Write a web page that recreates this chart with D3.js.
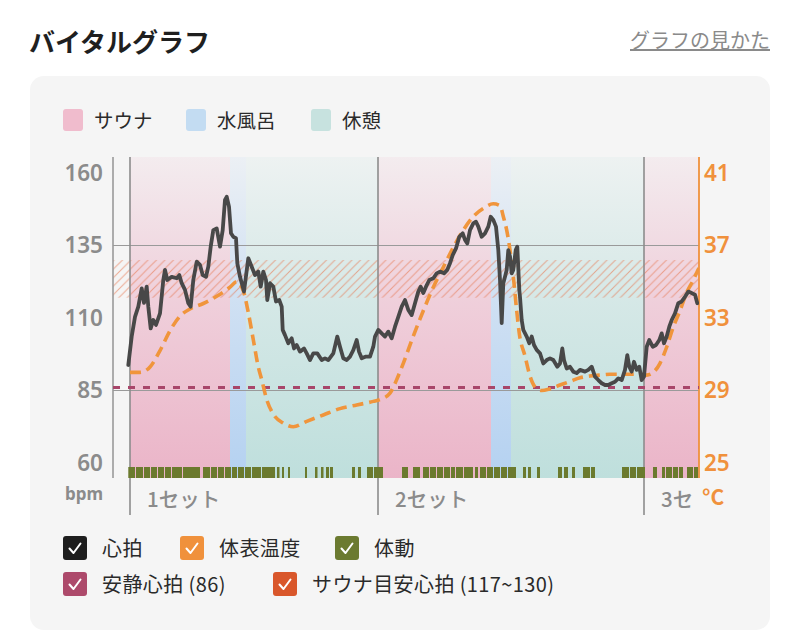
<!DOCTYPE html>
<html><head><meta charset="utf-8">
<script src="https://cdn.jsdelivr.net/npm/d3@7"></script>
<style>
html,body{margin:0;padding:0;background:#fff;}
svg{display:block;font-family:"Noto Sans CJK JP","Noto Sans",sans-serif;}
</style></head>
<body><svg id="c" width="800" height="644"></svg>
<script>
// ---------- data ----------
const hrTicks = [60, 85, 110, 135, 160];
const tempTicks = [25, 29, 33, 37, 41];
const gridBpm = [85, 135];
const restingHR = 86;
const saunaTarget = [117, 130];
const setLabels = ["1セット", "2セット", "3セット"];
const setStarts = [0, 24.8, 51.4];           // minutes
const phases = [                              // [type, start, end] minutes
  ["sauna", 0, 10.0], ["water", 10.0, 11.6], ["rest", 11.6, 24.8],
  ["sauna", 24.8, 36.1], ["water", 36.1, 38.1], ["rest", 38.1, 51.4],
  ["sauna", 51.4, 56.9]
];
const heartRate = [
  [-0.17,93.8],[0.17,103.6],[0.5,110.4],[0.83,113.9],[1.17,120.2],[1.4,115.2],[1.67,120.8],[1.83,113.9],
  [2.07,106.4],[2.33,109.3],[2.6,107.6],[3.0,111.6],[3.33,123.1],[3.5,126.6],[3.73,123.1],[4.17,124.2],
  [4.67,123.7],[4.93,124.8],[5.17,122],[5.5,119.7],[5.83,115.1],[6.07,113.9],[6.33,123.1],[6.67,129.4],
  [7.0,128.3],[7.27,124.8],[7.6,124.2],[7.83,127.7],[8.07,134.6],[8.33,140.3],[8.67,140.9],[9.0,134.6],
  [9.27,140.3],[9.5,150.7],[9.67,151.8],[9.9,148.4],[10.1,139.2],[10.33,138],[10.6,137.5],[10.73,128.9],
  [11.0,124.2],[11.4,119.1],[11.83,130.6],[12.17,127.7],[12.5,124.8],[12.83,126],[13.07,120.8],[13.33,126],
  [13.6,123.1],[13.73,116.2],[14.0,122],[14.33,120.8],[14.6,115.7],[14.93,116.2],[15.17,113.9],[15.27,105.9],
  [15.5,104.1],[15.83,101.3],[16.17,103],[16.4,99.5],[16.67,100.7],[17.0,98.4],[17.4,99.5],[17.67,97.8],
  [18.0,95.5],[18.33,97.8],[18.73,97.8],[19.17,95.5],[19.5,96.1],[19.83,95.5],[20.33,97.8],[20.73,103.6],
  [21.0,100.1],[21.33,96.1],[21.67,95.5],[22.0,96.7],[22.33,98.9],[22.67,102.4],[22.9,98.4],[23.17,96.1],
  [23.6,96.7],[24.0,96.7],[24.33,100.1],[24.5,103.6],[24.83,105.9],[25.17,104.7],[25.5,103.6],[25.83,105.3],
  [26.17,103],[26.5,107],[26.83,110.4],[27.17,113.9],[27.5,116.2],[27.83,112.8],[28.17,111],[28.5,115.1],
  [28.83,119.1],[29.07,120.8],[29.33,118.6],[29.6,120.8],[29.93,123.1],[30.33,123.7],[30.67,125.4],[31.0,126],
  [31.4,125.4],[31.73,126.6],[32.0,128.9],[32.27,131.7],[32.6,134],[32.93,138],[33.27,139.2],[33.5,136.9],
  [33.73,135.7],[34.0,140.3],[34.33,142.6],[34.6,143.2],[34.83,141.5],[35.17,138],[35.5,139.2],[35.83,141.5],
  [36.07,144.9],[36.33,143.8],[36.6,141.5],[36.83,133.4],[37.0,123.1],[37.17,108.2],[37.33,122],[37.5,124.2],
  [37.67,126.6],[37.83,133.4],[38.0,131.2],[38.17,125.4],[38.33,126.6],[38.57,133.4],[38.73,134.6],[38.93,119.7],
  [39.0,117.3],[39.17,109.3],[39.33,105.9],[39.67,103.6],[39.93,101.3],[40.17,103.6],[40.4,100.7],[40.67,99],
  [41.0,97.8],[41.33,94.3],[41.67,95.5],[42.0,96.1],[42.33,95.5],[42.73,93.2],[43.0,94.3],[43.23,99.5],
  [43.4,95.5],[43.67,92.6],[44.0,93.2],[44.33,91.5],[44.67,91],[45.0,92.1],[45.5,91.5],[45.83,92.1],
  [46.17,93.2],[46.5,89.8],[46.83,88.6],[47.17,87.5],[47.5,86.9],[47.83,86.9],[48.17,87.5],[48.5,88],
  [48.83,89.2],[49.17,88.6],[49.5,92.1],[49.73,97.2],[49.93,93.2],[50.17,91.5],[50.4,94.9],[50.67,92.1],
  [50.93,93.2],[51.17,88.6],[51.4,89.8],[51.67,100.1],[51.93,102.4],[52.27,100.1],[52.6,100.7],[52.93,102.4],
  [53.17,104.7],[53.4,101.3],[53.67,103.6],[53.93,107],[54.17,109.3],[54.5,111.6],[54.83,115.1],[55.17,115.7],
  [55.5,117.3],[55.83,119.1],[56.17,118.6],[56.5,118],[56.73,115.1]
];
const bodyTemp = [
  [0,30.0],[1.0,30.0],[2.0,30.3],[3.0,31.2],[4.0,32.3],[5.0,33.1],[6.0,33.5],[7.33,33.8],[8.67,34.2],
  [10.0,34.7],[10.67,35.0],[11.33,34.5],[11.83,33.3],[12.33,31.8],[12.83,30.3],[13.17,29.6],[13.67,28.5],
  [14.33,27.7],[15.33,27.2],[16.33,27.0],[17.67,27.3],[19.33,27.65],[21.0,28.0],[22.67,28.2],[24.33,28.4],
  [25.0,28.5],[26.0,28.85],[26.67,29.6],[27.33,30.5],[28.33,32.0],[29.33,33.4],[30.33,34.7],[31.33,35.8],
  [32.33,36.9],[33.33,37.85],[34.33,38.6],[35.33,39.05],[36.33,39.3],[37.0,39.2],[37.33,38.6],[37.67,37.85],
  [38.0,36.75],[38.33,35.3],[38.67,33.4],[38.93,32.15],[39.5,30.9],[40.0,29.8],[40.5,29.2],[41.17,29.0],
  [42.0,29.1],[43.0,29.3],[44.0,29.5],[45.0,29.7],[46.0,29.8],[47.0,29.85],[48.0,29.9],[49.0,29.9],
  [50.0,29.9],[51.0,29.9],[51.67,29.85],[52.33,30.0],[53.0,30.5],[53.67,31.4],[54.33,32.5],[55.0,33.4],
  [55.67,34.4],[56.33,35.1],[56.67,35.5],[56.9,35.75]
];
const movement = [ // [start, end] minutes
  [-0.17,0.5],[0.6,1.3],[1.4,2.0],[2.1,2.7],[2.8,3.4],[3.5,4.1],[4.2,5.2],[5.3,7.0],
  [7.3,8.0],[8.1,8.7],[8.8,9.4],[9.5,10.1],[10.2,10.7],[10.8,11.4],[11.5,12.1],[12.2,13.1],[13.2,14.5],
  [14.7,14.95],[15.2,15.4],[15.8,16.0],[17.5,17.7],[18.5,18.75],[19.1,19.35],[19.6,19.9],[20.0,20.3],
  [22.2,22.5],[22.8,23.1],[23.7,24.3],[24.4,25.3],
  [27.2,27.8],[28.3,29.0],[29.3,29.9],[30.0,30.6],[30.7,31.3],[31.4,32.0],[32.1,32.5],[32.6,33.3],[33.4,34.3],
  [34.5,34.8],[35.0,35.6],[35.7,36.3],[36.4,37.0],[37.1,37.7],[37.8,38.6],[39.3,39.6],[39.8,40.1],[40.7,41.0],
  [42.8,43.2],[43.4,43.8],[44.2,44.5],[45.3,46.0],[46.1,46.5],[49.2,49.9],[50.0,50.6],[50.7,51.5],
  [52.3,52.7],[53.2,53.5],[53.6,54.2],[54.3,54.8],[54.9,55.3],[55.7,56.3],[56.4,56.8]
];
const phaseLegend = [["sauna","サウナ"],["water","水風呂"],["rest","休憩"]];
const seriesLegend = [
  ["心拍","#1e1e1e"],["体表温度","#f0913c"],["体動","#6b7a30"],
  ["安静心拍 (86)","#ad4a6b"],["サウナ目安心拍 (117~130)","#d9572b"]
];

// ---------- drawing ----------
const svg = d3.select("#c");
const phaseColor = {sauna:"#e9a9c0", water:"#a9cbf0", rest:"#b5dbd8"};
const swatchColor = {sauna:"#f0bccd", water:"#c3dcf2", rest:"#c7e2df"};
const L = 113, R = 699, T = 157, B = 478, LB = 515;

const x = d3.scaleLinear().domain([0, 56.9]).range([130, R]);
const y = d3.scaleLinear().domain([60, 160]).range([463, 173]);
const yT = d3.scaleLinear().domain([25, 41]).range([463, 173]);

// header
svg.append("text").attr("x",29).attr("y",52).attr("font-size",26).attr("font-weight",700)
  .attr("fill","#1f1f1f").text("バイタルグラフ");
svg.append("text").attr("x",770).attr("y",48).attr("text-anchor","end").attr("font-size",20)
  .attr("fill","#8a8a8a").attr("text-decoration","underline").text("グラフの見かた");

// card
svg.append("rect").attr("x",30).attr("y",76).attr("width",740).attr("height",554)
  .attr("rx",14).attr("fill","#f5f5f5");

// phase legend
const pl = svg.append("g");
const plPos = [63, 186, 311];
phaseLegend.forEach((d,i)=>{
  pl.append("rect").attr("x",plPos[i]).attr("y",109).attr("width",20).attr("height",22).attr("rx",3)
    .attr("fill",swatchColor[d[0]]);
  pl.append("text").attr("x",plPos[i]+31).attr("y",128).attr("font-size",19.5).attr("fill","#2a2a2a").text(d[1]);
});

// gradients
const defs = svg.append("defs");
Object.keys(phaseColor).forEach(k=>{
  const g = defs.append("linearGradient").attr("id","g-"+k).attr("x1",0).attr("y1",0).attr("x2",0).attr("y2",1);
  g.append("stop").attr("offset","0%").attr("stop-color",phaseColor[k]).attr("stop-opacity",0.12);
  g.append("stop").attr("offset","45%").attr("stop-color",phaseColor[k]).attr("stop-opacity",0.5);
  g.append("stop").attr("offset","100%").attr("stop-color",phaseColor[k]).attr("stop-opacity",0.85);
});
const pat = defs.append("pattern").attr("id","hatch").attr("patternUnits","userSpaceOnUse")
  .attr("width",8.5).attr("height",8.5);
pat.append("path").attr("d","M-2,2 L2,-2 M0,8.5 L8.5,0 M6.5,10.5 L10.5,6.5")
  .attr("stroke","#e8754c").attr("stroke-width",1).attr("stroke-opacity",0.6);
defs.append("clipPath").attr("id","clipPlot").append("rect").attr("x",L).attr("y",T).attr("width",R-L).attr("height",B-T);

// phase backgrounds
svg.append("g").selectAll("rect").data(phases).join("rect")
  .attr("x",d=>x(d[1])).attr("width",d=>x(d[2])-x(d[1]))
  .attr("y",T).attr("height",B-T).attr("fill",d=>`url(#g-${d[0]})`);

// gridlines
svg.append("g").selectAll("line").data(gridBpm).join("line")
  .attr("x1",L).attr("x2",R).attr("y1",d=>y(d)).attr("y2",d=>y(d))
  .attr("stroke","#9a9a9a").attr("stroke-width",1.2);

// sauna target band
svg.append("rect").attr("x",L).attr("width",R-L)
  .attr("y",y(saunaTarget[1])).attr("height",y(saunaTarget[0])-y(saunaTarget[1]))
  .attr("fill","url(#hatch)");

// set lines
svg.append("g").selectAll("line").data(setStarts).join("line")
  .attr("x1",d=>x(d)).attr("x2",d=>x(d)).attr("y1",T).attr("y2",LB)
  .attr("stroke","#8c8c8c").attr("stroke-width",1.6);

// axis lines
svg.append("line").attr("x1",L).attr("x2",L).attr("y1",T).attr("y2",B).attr("stroke","#9a9a9a").attr("stroke-width",1.6);
svg.append("line").attr("x1",R).attr("x2",R).attr("y1",T).attr("y2",B).attr("stroke","#f0913c").attr("stroke-width",1.8);

// movement bars
svg.append("g").selectAll("rect").data(movement).join("rect")
  .attr("x",d=>x(d[0])).attr("width",d=>x(d[1])-x(d[0]))
  .attr("y",467).attr("height",11).attr("fill","#6b7a2e");

// resting HR
svg.append("line").attr("x1",L).attr("x2",R).attr("y1",y(restingHR)).attr("y2",y(restingHR))
  .attr("stroke","#a8466a").attr("stroke-width",3).attr("stroke-dasharray","7,8");

// temperature
const gPlot = svg.append("g").attr("clip-path","url(#clipPlot)");
gPlot.append("path").datum(bodyTemp)
  .attr("d",d3.line().x(d=>x(d[0])).y(d=>yT(d[1])).curve(d3.curveMonotoneX))
  .attr("fill","none").attr("stroke","#f0953c").attr("stroke-width",3.6)
  .attr("stroke-dasharray","11,6").attr("stroke-linecap","butt");

// heart rate
gPlot.append("path").datum(heartRate)
  .attr("d",d3.line().x(d=>x(d[0])).y(d=>y(d[1])))
  .attr("fill","none").attr("stroke","#484848").attr("stroke-width",3.8)
  .attr("stroke-linejoin","round").attr("stroke-linecap","round");

// left axis
const ax = svg.append("g").attr("transform",`translate(${L},0)`)
  .call(d3.axisLeft(y).tickValues(hrTicks).tickSize(0).tickPadding(10));
ax.select(".domain").remove();
ax.selectAll("text").attr("font-size",22.5).attr("font-weight",600).attr("fill","#8b8b8b")
  .attr("font-family","'Noto Sans','Noto Sans CJK JP',sans-serif");
// right axis
const axR = svg.append("g").attr("transform",`translate(${R},0)`)
  .call(d3.axisRight(yT).tickValues(tempTicks).tickSize(0).tickPadding(5));
axR.select(".domain").remove();
axR.selectAll("text").attr("font-size",22.5).attr("font-weight",600).attr("fill","#f0913c")
  .attr("font-family","'Noto Sans','Noto Sans CJK JP',sans-serif");

svg.append("text").attr("x",103).attr("y",500).attr("text-anchor","end").attr("font-size",17)
  .attr("font-weight",700).attr("fill","#8b8b8b").attr("font-family","'Noto Sans',sans-serif").text("bpm");
svg.append("text").attr("x",702).attr("y",505).attr("font-size",21)
  .attr("font-weight",700).attr("fill","#f0913c").text("°C");

// set labels (truncated where they run into the right axis, as in the app)
svg.append("g").selectAll("text").data(setStarts).join("text")
  .attr("x",d=>x(d)+17).attr("y",507).attr("font-size",20.5).attr("font-weight",500)
  .attr("fill","#8b8b8b")
  .each(function(d,i){
    const el = d3.select(this);
    const maxW = R - 2 - (x(d)+17);
    let s = setLabels[i];
    el.text(s);
    while (s.length > 1 && this.getComputedTextLength() > maxW) {
      s = s.slice(0, -1);
      el.text(s);
    }
  });

// series legend
const slPos = [[63,536],[180,536],[335,536],[63,572],[273,572]];
seriesLegend.forEach((d,i)=>{
  const [lx,ly] = slPos[i];
  const g = svg.append("g").attr("transform",`translate(${lx},${ly})`);
  g.append("rect").attr("width",24).attr("height",24).attr("rx",3).attr("fill",d[1]);
  g.append("path").attr("d","M6.5,12.5 L10.5,17 L17.5,7.5").attr("fill","none")
    .attr("stroke","#fff").attr("stroke-width",2).attr("stroke-linecap","round").attr("stroke-linejoin","round");
  g.append("text").attr("x",39).attr("y",19.5).attr("font-size",20).attr("letter-spacing",0.4)
    .attr("fill","#2a2a2a").text(d[0]);
});
</script></body></html>
